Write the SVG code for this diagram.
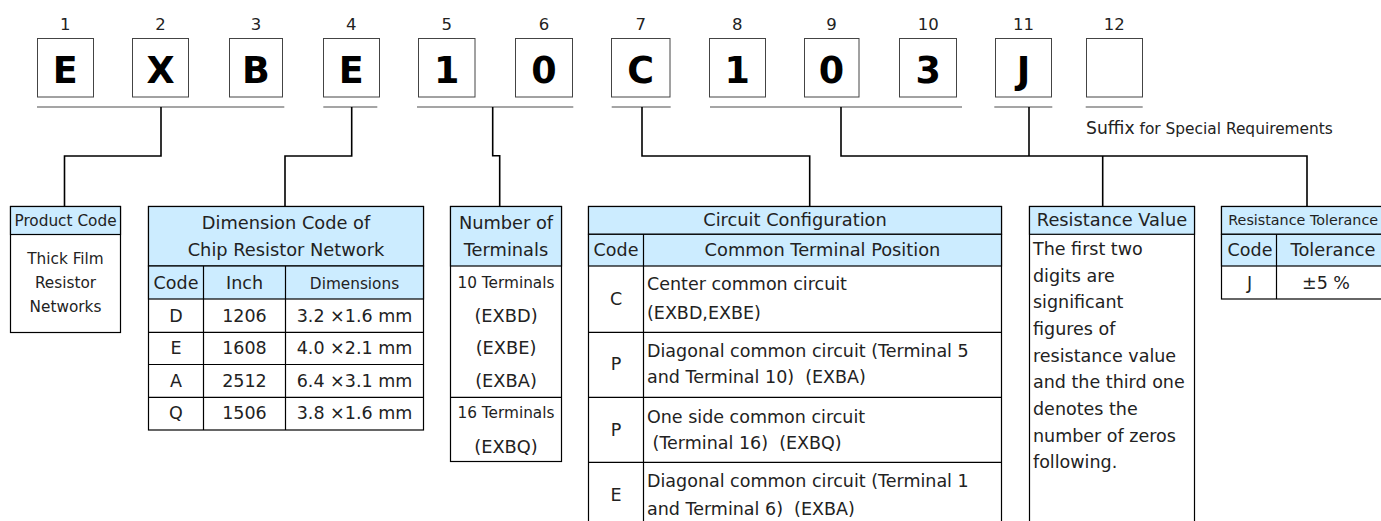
<svg xmlns="http://www.w3.org/2000/svg" width="1381" height="521" viewBox="0 0 1381 521">
<style>
text{font-family:"DejaVu Sans","Liberation Sans",sans-serif;fill:#222}
.num{font-size:16.5px;text-anchor:middle}
.big{font-size:36.5px;font-weight:bold;text-anchor:middle;fill:#000}
.box{fill:#fff;stroke:#444;stroke-width:1}
.ul{stroke:#888;stroke-width:1.5;fill:none}
.tb{fill:#fff;stroke:#000;stroke-width:1.2}
.hd{fill:#CCECFF;stroke:#000;stroke-width:1.2}
.ln{stroke:#000;stroke-width:1.2;fill:none}
.h{font-size:17.8px;text-anchor:middle}
.s{font-size:15.3px;text-anchor:middle}
.b{font-size:17.5px}
.bc{font-size:17.5px;text-anchor:middle}
.con{stroke:#000;stroke-width:1.6;fill:none}
</style>
<g id="code-boxes">
<g id="pos1"><text class="num" x="65.3" y="30">1</text><rect class="box" x="37.5" y="38.5" width="56" height="58.5"/><text class="big" x="65.3" y="83.3">E</text></g>
<g id="pos2"><text class="num" x="160.5" y="30">2</text><rect class="box" x="132.5" y="38.5" width="56" height="58.5"/><text class="big" x="160.5" y="83.3">X</text></g>
<g id="pos3"><text class="num" x="256" y="30">3</text><rect class="box" x="229.5" y="38.5" width="53" height="58.5"/><text class="big" x="256" y="83.3">B</text></g>
<g id="pos4"><text class="num" x="351.3" y="30">4</text><rect class="box" x="323.5" y="38.5" width="56" height="58.5"/><text class="big" x="351.3" y="83.3">E</text></g>
<g id="pos5"><text class="num" x="446.7" y="30">5</text><rect class="box" x="418.5" y="38.5" width="56.5" height="58.5"/><text class="big" x="446.7" y="83.3">1</text></g>
<g id="pos6"><text class="num" x="544" y="30">6</text><rect class="box" x="515.5" y="38.5" width="57" height="58.5"/><text class="big" x="544" y="83.3">0</text></g>
<g id="pos7"><text class="num" x="640.7" y="30">7</text><rect class="box" x="611.5" y="38.5" width="58.5" height="58.5"/><text class="big" x="640.7" y="83.3">C</text></g>
<g id="pos8"><text class="num" x="737.2" y="30">8</text><rect class="box" x="709.5" y="38.5" width="56" height="58.5"/><text class="big" x="737.2" y="83.3">1</text></g>
<g id="pos9"><text class="num" x="831.5" y="30">9</text><rect class="box" x="804.5" y="38.5" width="54.5" height="58.5"/><text class="big" x="831.5" y="83.3">0</text></g>
<g id="pos10"><text class="num" x="928.2" y="30">10</text><rect class="box" x="899.5" y="38.5" width="57" height="58.5"/><text class="big" x="928.2" y="83.3">3</text></g>
<g id="pos11"><text class="num" x="1023.5" y="30">11</text><rect class="box" x="995.5" y="38.5" width="56" height="58.5"/><text class="big" x="1023.5" y="83.3">J</text></g>
<g id="pos12"><text class="num" x="1114.2" y="30">12</text><rect class="box" x="1086.5" y="38.5" width="56" height="58.5"/></g>
</g>
<g id="underlines">
<path class="ul" d="M37,107H284.3M323.3,107H377.3M417,107H573.3M611.7,107H670.7M710,107H962M994.3,107H1052.3M1085.7,107H1142.7"/>
</g>
<g id="suffix"><text x="1086" y="134"><tspan style="font-size:17.2px">Suffix</tspan><tspan style="font-size:15.4px"> for Special Requirements</tspan></text></g>
<g id="connectors">
<path class="con" d="M161,107V156H64.5V206.5"/>
<path class="con" d="M351.7,107V156H285V206.5"/>
<path class="con" d="M492.7,107V155.7H499.7V206.5"/>
<path class="con" d="M642,107V156H809.7V206.5"/>
<path class="con" d="M841,107V156H1307V206.5"/>
<path class="con" d="M1029,107V156"/>
<path class="con" d="M1102.7,156V206.5"/>
</g>
<g id="product-code">
<rect class="tb" x="10.5" y="206.5" width="110" height="126"/>
<rect class="hd" x="10.5" y="206.5" width="110" height="28"/>
<text class="s" x="65.5" y="225.5">Product Code</text>
<text class="s" x="65.5" y="264">Thick Film</text>
<text class="s" x="65.5" y="288">Resistor</text>
<text class="s" x="65.5" y="311.7">Networks</text>
</g>
<g id="dimension-code">
<rect class="tb" x="148.5" y="206.5" width="275" height="223.5"/>
<rect class="hd" x="148.5" y="206.5" width="275" height="59.5"/>
<rect class="hd" x="148.5" y="266" width="275" height="33"/>
<path class="ln" d="M203.5,266V430M285.5,266V430M148.5,332.3H423.5M148.5,364.5H423.5M148.5,397.3H423.5"/>
<text class="h" x="286" y="229">Dimension Code of</text>
<text class="h" x="286" y="256">Chip Resistor Network</text>
<text class="bc" x="176" y="289.3">Code</text>
<text class="bc" x="244.5" y="289.3">Inch</text>
<text class="s" x="354.5" y="288.5">Dimensions</text>
<text class="bc" x="176" y="321.7">D</text><text class="bc" x="244.5" y="321.7">1206</text><text class="bc" x="354.5" y="321.7">3.2 ×1.6 mm</text>
<text class="bc" x="176" y="354">E</text><text class="bc" x="244.5" y="354">1608</text><text class="bc" x="354.5" y="354">4.0 ×2.1 mm</text>
<text class="bc" x="176" y="386.7">A</text><text class="bc" x="244.5" y="386.7">2512</text><text class="bc" x="354.5" y="386.7">6.4 ×3.1 mm</text>
<text class="bc" x="176" y="419.3">Q</text><text class="bc" x="244.5" y="419.3">1506</text><text class="bc" x="354.5" y="419.3">3.8 ×1.6 mm</text>
</g>
<g id="number-of-terminals">
<rect class="tb" x="450.5" y="206.5" width="111" height="255"/>
<rect class="hd" x="450.5" y="206.5" width="111" height="59.5"/>
<path class="ln" d="M450.5,397.3H561.5"/>
<text class="h" x="506" y="229">Number of</text>
<text class="h" x="506" y="256">Terminals</text>
<text class="s" x="506" y="288.3">10 Terminals</text>
<text class="h" x="506" y="321.7">(EXBD)</text>
<text class="h" x="506" y="354">(EXBE)</text>
<text class="h" x="506" y="386.7">(EXBA)</text>
<text class="s" x="506" y="418.3">16 Terminals</text>
<text class="h" x="506" y="452.7">(EXBQ)</text>
</g>
<g id="circuit-configuration">
<rect class="tb" x="588.5" y="206.5" width="413" height="320"/>
<rect class="hd" x="588.5" y="206.5" width="413" height="27.8"/>
<rect class="hd" x="588.5" y="234.3" width="413" height="31.7"/>
<path class="ln" d="M643.5,234.3V526M588.5,332.3H1001.5M588.5,397.3H1001.5M588.5,462.3H1001.5"/>
<text class="h" x="795" y="225.7">Circuit Configuration</text>
<text class="bc" x="616" y="256">Code</text>
<text class="h" x="822.5" y="256">Common Terminal Position</text>
<text class="bc" x="616" y="305">C</text>
<text class="b" x="647" y="290">Center common circuit</text>
<text class="b" x="647" y="319.3">(EXBD,EXBE)</text>
<text class="bc" x="616" y="370">P</text>
<text class="b" x="647" y="356.7">Diagonal common circuit (Terminal 5</text>
<text class="b" x="647" y="383.3" xml:space="preserve">and Terminal 10)  (EXBA)</text>
<text class="bc" x="616" y="436">P</text>
<text class="b" x="647" y="422.7">One side common circuit</text>
<text class="b" x="647" y="449.3" xml:space="preserve"> (Terminal 16)  (EXBQ)</text>
<text class="bc" x="616" y="500.7">E</text>
<text class="b" x="647" y="487.3">Diagonal common circuit (Terminal 1</text>
<text class="b" x="647" y="515" xml:space="preserve">and Terminal 6)  (EXBA)</text>
</g>
<g id="resistance-value">
<rect class="tb" x="1029.5" y="206.5" width="165" height="320"/>
<rect class="hd" x="1029.5" y="206.5" width="165" height="27.8"/>
<text class="h" x="1112" y="225.7">Resistance Value</text>
<text class="b" x="1033" y="255">The first two</text>
<text class="b" x="1033" y="281.7">digits are</text>
<text class="b" x="1033" y="308.3">significant</text>
<text class="b" x="1033" y="335">figures of</text>
<text class="b" x="1033" y="361.7">resistance value</text>
<text class="b" x="1033" y="388.3">and the third one</text>
<text class="b" x="1033" y="415">denotes the</text>
<text class="b" x="1033" y="441.7">number of zeros</text>
<text class="b" x="1033" y="468.3">following.</text>
</g>
<g id="resistance-tolerance">
<rect class="tb" x="1221.5" y="206.5" width="170" height="92.5"/>
<rect class="hd" x="1221.5" y="206.5" width="170" height="27.8"/>
<rect class="hd" x="1221.5" y="234.3" width="170" height="31.7"/>
<path class="ln" d="M1276.5,234.3V299"/>
<text x="1228.3" y="225" style="font-size:14.3px">Resistance Tolerance</text>
<text class="bc" x="1250" y="256">Code</text>
<text class="h" x="1333" y="256">Tolerance</text>
<text class="bc" x="1249.7" y="289.3">J</text>
<text class="bc" x="1326" y="289.3">±5 %</text>
</g>
</svg>
